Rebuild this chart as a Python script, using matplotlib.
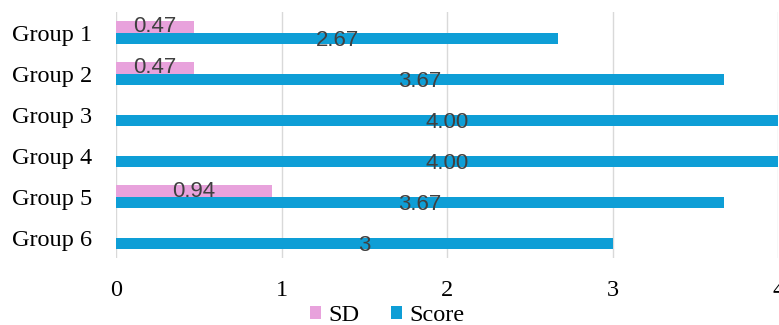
"""
Horizontal grouped bars: score and SD per group
"""

import numpy as np
import matplotlib
matplotlib.use('Agg')
import matplotlib.pyplot as plt

plt.rcParams.update({
    'font.family': 'Liberation Serif',
    'font.size': 17,
})

groups = ['Group 1', 'Group 2', 'Group 3', 'Group 4', 'Group 5', 'Group 6']
score = [2.67, 3.67, 4.00, 4.00, 3.67, 3]
score_labels = ['2.67', '3.67', '4.00', '4.00', '3.67', '3']
sd = [0.47, 0.47, 0, 0, 0.94, 0]
sd_labels = ['0.47', '0.47', '', '', '0.94', '']

sd_color = '#E8A2DC'
score_color = '#0E9ED6'
label_color = '#404040'

fig = plt.figure(figsize=(7.79, 3.25), dpi=100)
ax = fig.add_axes([0.149, 0.206, 0.850, 0.757])

y = np.arange(len(groups))
h = 0.27

sd_bars = ax.barh(y - h/2, sd, height=h, color=sd_color, label='SD', zorder=2)
score_bars = ax.barh(y + h/2, score, height=h, color=score_color, label='Score', zorder=2)

# value labels in the middle of each bar
for bar, txt in zip(sd_bars, sd_labels):
    if txt:
        ax.text(bar.get_width() / 2, bar.get_y() + bar.get_height() / 2, txt,
                ha='center', va='center', fontsize=16, color=label_color,
                family='Liberation Sans', zorder=3)
for bar, txt in zip(score_bars, score_labels):
    ax.text(bar.get_width() / 2, bar.get_y() + bar.get_height() / 2 + 0.06, txt,
            ha='center', va='center', fontsize=16, color=label_color,
            family='Liberation Sans', zorder=3)

ax.set_xlim(0, 4)
ax.set_ylim(len(groups) - 0.5, -0.5)
ax.set_xticks([0, 1, 2, 3, 4])
ax.set_yticks(y)
ax.set_yticklabels(groups)
ax.tick_params(length=0, labelsize=17.5)
ax.tick_params(axis='x', pad=16)
ax.tick_params(axis='y', pad=17)

ax.grid(axis='x', color='#D9D9D9', linewidth=1, zorder=0)
for s in ax.spines.values():
    s.set_visible(False)

fig.legend(loc='lower center', bbox_to_anchor=(0.497, -0.003), ncols=2, frameon=False,
           borderpad=0.0, borderaxespad=0.0, handlelength=0.45, handleheight=0.45,
           handletextpad=0.3, columnspacing=1.3, fontsize=17.5)

fig.savefig('out.png', dpi=100)
